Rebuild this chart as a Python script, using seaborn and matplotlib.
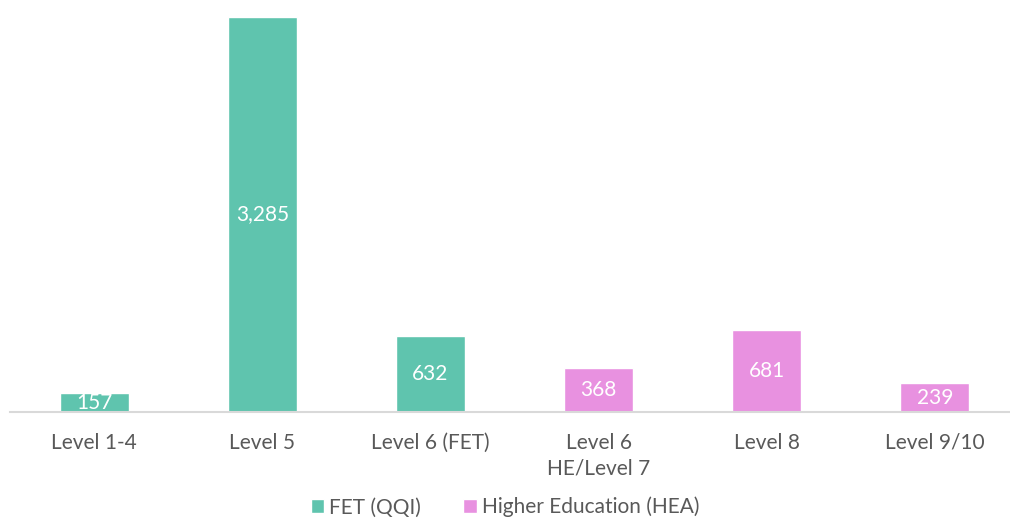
import pandas as pd
import matplotlib
matplotlib.use("Agg")
import matplotlib.pyplot as plt
import seaborn as sns

# chart values
levels = ["Level 1-4", "Level 5", "Level 6 (FET)", "Level 6\nHE/Level 7", "Level 8", "Level 9/10"]
counts = [157, 3285, 632, 368, 681, 239]
sectors = ["FET (QQI)", "FET (QQI)", "FET (QQI)",
           "Higher Education (HEA)", "Higher Education (HEA)", "Higher Education (HEA)"]

palette = {"FET (QQI)": "#5FC4AE", "Higher Education (HEA)": "#E891E0"}

df = pd.DataFrame({"Level": levels, "Count": counts, "Sector": sectors})

sns.set_style("white")
plt.rcParams["font.family"] = ["Lato", "DejaVu Sans"]

fig = plt.figure(figsize=(10.10, 5.18), dpi=100)
ax = fig.add_axes([10 / 1010, (518 - 412) / 518, 1009 / 1010, (412 - 17) / 518])

sns.barplot(data=df, x="Level", y="Count", hue="Sector", palette=palette,
            dodge=False, width=0.41, saturation=1, ax=ax, legend=True)

ax.set_ylim(0, 3285)
ax.set_xlim(-0.5, 5.5)

# value labels centred in each bar
for cont in ax.containers:
    ax.bar_label(cont, labels=[f"{v:,.0f}" if v == v else "" for v in cont.datavalues],
                 label_type="center", color="white", fontsize=15)

ax.set_xlabel("")
ax.set_ylabel("")
ax.set_yticks([])
for s in ["top", "right", "left"]:
    ax.spines[s].set_visible(False)
ax.spines["bottom"].set_color("#D9D9D9")
ax.spines["bottom"].set_linewidth(1.5)
ax.tick_params(axis="x", length=0, pad=15, labelsize=15, labelcolor="#595959")
for lbl in ax.get_xticklabels():
    lbl.set_linespacing(1.35)

handles, labels = ax.get_legend_handles_labels()
ax.get_legend().remove()
fig.legend(handles, labels, loc="lower center", bbox_to_anchor=(0.5, -0.035), ncol=2,
           frameon=False, fontsize=15, labelcolor="#595959",
           handlelength=0.65, handleheight=0.65, handletextpad=0.25, columnspacing=2.0)

fig.savefig("out.png", dpi=100)
